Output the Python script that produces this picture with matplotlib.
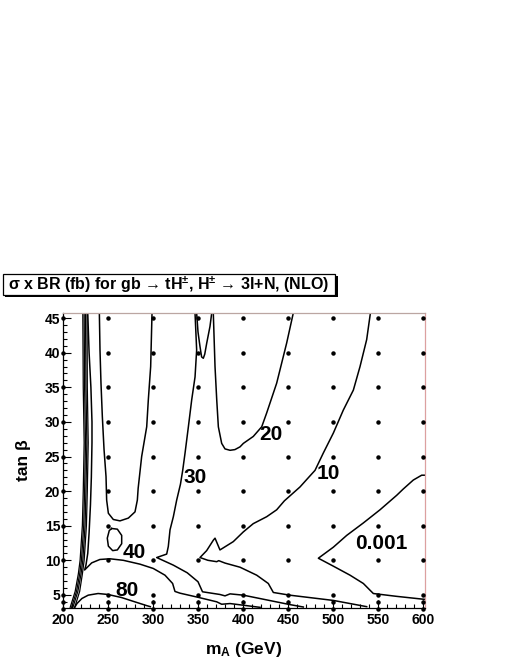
import matplotlib
matplotlib.use("Agg")
import matplotlib.pyplot as plt
from matplotlib.patches import Rectangle
from matplotlib.ticker import MultipleLocator

# ── data ────────────────────────────────────────────────────────
grid_mA = [200, 250, 300, 350, 400, 450, 500, 550, 600]
grid_tanb = [3, 4, 5, 10, 15, 20, 25, 30, 35, 40, 45]

# thick bundle of lines close to threshold
bundle_tanb = [3.2, 5.5, 8, 10, 15, 20, 27, 35, 45.7]
bundle_mA = [
    [208, 213.5, 217, 219, 221.5, 222.5, 223.5, 222.5, 222.0],
    [209.5, 215, 218.5, 220.5, 223, 224, 225, 224, 223.5],
    [211, 216.5, 220, 222, 224.5, 225.5, 226.5, 225.5, 225.0],
    [213, 218.5, 221.5, 223.5, 226, 227, 228, 227, 226.7],
]

c80_mA = [213, 215.6, 221, 228, 232, 239, 250, 265, 280, 293, 297]
c80_tanb = [3.2, 3.76, 4.48, 4.96, 5.05, 5.2, 5.06, 4.62, 3.99, 3.45, 3.3]

c40_mA = [227.5, 229, 231, 232.2, 232.2, 231.5, 230.5, 229, 227.5, 225.5, 224,
          231.9, 241, 252, 267, 285.6, 300.3, 313.3, 321.8, 324.4, 330, 348.5,
          370.8, 376.3, 385.6, 419]
c40_tanb = [45.7, 40, 35, 30, 27, 22, 18, 14, 11, 9.3, 8.6,
            9.63, 10.12, 10.22, 10.0, 9.44, 8.82, 7.85, 6.65, 5.5, 5.25, 4.7,
            4.0, 3.65, 3.75, 3.2]

u_mA = [240.4, 241.1, 242.2, 243.7, 245.6, 247.8, 248.5, 250.4, 255.9, 263.3,
        272.6, 280, 282.6, 283.5, 287.4, 293, 294.8, 297.4, 298.9]
u_tanb = [45.7, 40.4, 35.6, 30.8, 26, 22.1, 18.7, 16.8, 15.9, 15.7,
          16.1, 17.0, 18.7, 20.4, 25, 29.3, 33.2, 38, 45.7]

loop_mA = [254.1, 260.4, 265.2, 265.2, 260.4, 255.2, 250.4, 249.2, 251.4, 254.1]
loop_tanb = [14.6, 14.5, 13.6, 12.4, 11.5, 11.4, 12.05, 13.2, 14.3, 14.6]

c30_mA = [346.7, 348.5, 346.7, 343, 339.3, 335.6, 333, 330.5, 326.3, 322.6,
          318.9, 317, 315.2, 304.1, 322.6, 338, 350, 355, 374.4, 380, 385.6,
          400.4, 452, 467]
c30_tanb = [45.7, 40.4, 36.5, 33.2, 29.3, 25.5, 23, 21, 18.7, 16.3,
            14.4, 12.0, 10.9, 10.4, 9.3, 8.2, 6.9, 5.45, 5.06, 4.86, 5.15,
            4.96, 3.6, 3.25]

v_mA = [348.5, 350, 352.2, 354, 355.9, 357.5, 359.7, 363.3, 365.2]
v_tanb = [45.7, 43, 40.9, 39.4, 39.2, 39.8, 41.4, 43.8, 45.7]

c20_mA = [367, 368.9, 370.8, 372.6, 376.3, 380, 385.6, 391, 396.7, 400.4,
          411.4, 420.8, 426.3, 437.4, 448.5, 455.8]
c20_tanb = [45.7, 38, 33.2, 29.3, 26.9, 26.1, 25.9, 26.0, 26.4, 26.9,
            27.9, 29.3, 31.3, 35.6, 41.4, 45.7]

c10_mA = [541.5, 537.4, 530, 522.6, 511.4, 500.4, 489.2, 480, 473, 463.3,
          446, 437.4, 426.3, 411.4, 400.3, 389.2, 374.4, 368.9, 367, 359.6,
          352.2, 361, 370.8, 373, 380, 396.7, 415.2, 428.1, 433.7, 452, 500.4,
          537.4]
c10_tanb = [45.7, 41.9, 38, 34.6, 31.7, 28.4, 25.5, 23, 22.0, 20.6,
            18.6, 17.3, 16.3, 15.3, 14.1, 12.7, 11.5, 13.2, 12.9, 11.4,
            10.4, 10.0, 9.8, 9.95, 9.6, 9.0, 7.85, 6.65, 5.35, 4.96, 4.2,
            3.3]

c001_mA = [603, 598.5, 589.2, 578, 570.8, 552.2, 533.7, 515.2, 500.4, 483.7,
           500.4, 518.9, 533.7, 541.1, 544.8, 570, 598.5, 603]
c001_tanb = [22.3, 22.3, 21.6, 20.3, 19.4, 17.3, 15.4, 13.6, 11.9, 10.3,
             9.15, 7.85, 6.65, 5.68, 5.2, 4.8, 4.4, 4.35]

labels = ["80", "40", "30", "20", "10", "0.001"]
label_mA = [270.7, 279.6, 346.7, 431, 494.8, 553.7]
label_tanb = [5.6, 11.2, 22.0, 28.2, 22.5, 12.5]

# ── figure ───────────────────────────────────────────────────────
FONT = ["Liberation Sans", "DejaVu Sans"]
plt.rcParams["font.family"] = FONT
plt.rcParams["font.weight"] = "bold"
plt.rcParams["mathtext.default"] = "regular"

fig = plt.figure(figsize=(5.1, 6.6), dpi=100, facecolor="white")
ax = fig.add_axes([63 / 510, 1 - 607.7 / 660, (425 - 63) / 510, (607.7 - 313.3) / 660])

LW = 1.1
for xs in bundle_mA:
    ax.plot(xs, bundle_tanb, color="black", lw=0.9)
for xs, ys in [(c80_mA, c80_tanb), (c40_mA, c40_tanb), (u_mA, u_tanb),
               (loop_mA, loop_tanb), (c30_mA, c30_tanb), (v_mA, v_tanb),
               (c20_mA, c20_tanb), (c10_mA, c10_tanb), (c001_mA, c001_tanb)]:
    ax.plot(xs, ys, color="black", lw=LW)

# grid points
gx = [x for x in grid_mA for _ in grid_tanb]
gy = [y for _ in grid_mA for y in grid_tanb]
ax.plot(gx, gy, "o", color="black", ms=2.2, ls="none", clip_on=False, zorder=5)

for t, x, y in zip(labels, label_mA, label_tanb):
    ax.text(x, y, t, ha="center", va="center", fontsize=15, fontweight="bold")

ax.set_xlim(200, 602.2)
ax.set_ylim(3.15, 45.7)
ax.xaxis.set_major_locator(MultipleLocator(50))
ax.xaxis.set_minor_locator(MultipleLocator(10))
ax.yaxis.set_major_locator(MultipleLocator(5))
ax.yaxis.set_minor_locator(MultipleLocator(1))
ax.tick_params(which="both", direction="in", top=False, right=False,
               labelsize=10, width=0.8)
ax.tick_params(which="major", length=6)
ax.tick_params(which="minor", length=3)
ax.tick_params(axis="x", pad=4)
ax.tick_params(axis="y", pad=2)
for lab in ax.get_xticklabels() + ax.get_yticklabels():
    lab.set_fontweight("bold")
ax.spines["top"].set_color("#bba6a2")
ax.spines["right"].set_color("#dca0a0")
for s in ax.spines.values():
    s.set_linewidth(0.9)

ax.set_xlabel(r"m$_A$ (GeV)", fontsize=12.5, fontweight="bold", labelpad=9)
ax.set_ylabel("tan β", fontsize=12.5, fontweight="bold", labelpad=10)

# title box with shadow
W, H = 510, 660
fig.patches.append(Rectangle((5.5 / W, 1 - 297.5 / H), 332 / W, 21 / H,
                             transform=fig.transFigure, facecolor="black",
                             edgecolor="black", lw=0))
fig.patches.append(Rectangle((3 / W, 1 - 295 / H), 332 / W, 21 / H,
                             transform=fig.transFigure, facecolor="white",
                             edgecolor="black", lw=0.9))
fig.text(168.5 / W, 1 - 284.5 / H,
         "σ x BR (fb) for gb → tH$^{\\pm}$, H$^{\\pm}$ → 3l+N, (NLO)",
         ha="center", va="center", fontsize=11.5, fontweight="bold")

fig.savefig("out.png", dpi=100, facecolor="white")
